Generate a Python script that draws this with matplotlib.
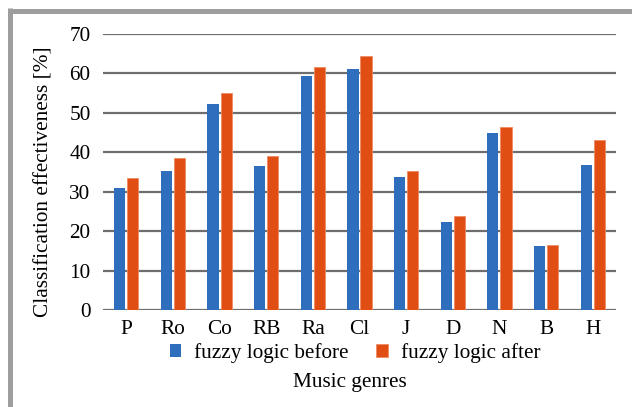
import numpy as np
import matplotlib.pyplot as plt
from matplotlib.lines import Line2D

genres = ['P', 'Ro', 'Co', 'RB', 'Ra', 'Cl', 'J', 'D', 'N', 'B', 'H']
before = [30.9, 35.3, 52.2, 36.5, 59.4, 61.2, 33.7, 22.3, 44.9, 16.2, 36.8]
after = [33.5, 38.6, 55.0, 39.0, 61.7, 64.4, 35.3, 23.8, 46.3, 16.6, 43.1]

plt.rcParams['font.family'] = ['Liberation Serif', 'DejaVu Serif']
fs = 15.3

W, H = 632, 407
fig = plt.figure(figsize=(W / 100, H / 100), dpi=100)
ax = fig.add_axes([103 / W, 1 - 310 / H, 513 / W, 276 / H])

x = np.arange(len(genres))
w = 0.24
ax.bar(x - 0.14, before, w, color='#2E6EBD', label='fuzzy logic before', zorder=3)
ax.bar(x + 0.14, after, w, color='#E04E14', edgecolor='#F08A64', linewidth=0.6,
       label='fuzzy logic after', zorder=3)

ax.set_xlim(-0.5, len(genres) - 0.5)
ax.set_ylim(0, 70)
ax.set_yticks(range(0, 71, 10))
ax.set_xticks(x)
ax.set_xticklabels(genres)
ax.yaxis.grid(True, color='#6E6E6E', linewidth=1.6, zorder=0)
ax.tick_params(length=0, labelsize=fs, colors='black')
ax.tick_params(axis='x', pad=7)
ax.tick_params(axis='y', pad=9)
for s in ax.spines.values():
    s.set_visible(False)

ax.set_ylabel('Classification effectiveness [%]', fontsize=fs, va='center')
ax.yaxis.set_label_coords(-0.115, 0.466)

fig.legend(loc='center', bbox_to_anchor=(355 / W, 1 - 353 / H), ncol=2, frameon=False,
           fontsize=fs, handlelength=0.55, handleheight=0.55, handletextpad=0.6,
           columnspacing=1.3)
fig.text(350 / W, 1 - 382 / H, 'Music genres', ha='center', va='center', fontsize=fs)

# gray frame at top and left
fig.add_artist(Line2D([10.5 / W, 10.5 / W], [0, 1 - 8 / H], transform=fig.transFigure,
                      color='#9E9E9E', linewidth=3.6, solid_capstyle='butt'))
fig.add_artist(Line2D([8 / W, 1], [1 - 10.5 / H, 1 - 10.5 / H], transform=fig.transFigure,
                      color='#9E9E9E', linewidth=3.6, solid_capstyle='butt'))

fig.savefig('out.png', dpi=100)
